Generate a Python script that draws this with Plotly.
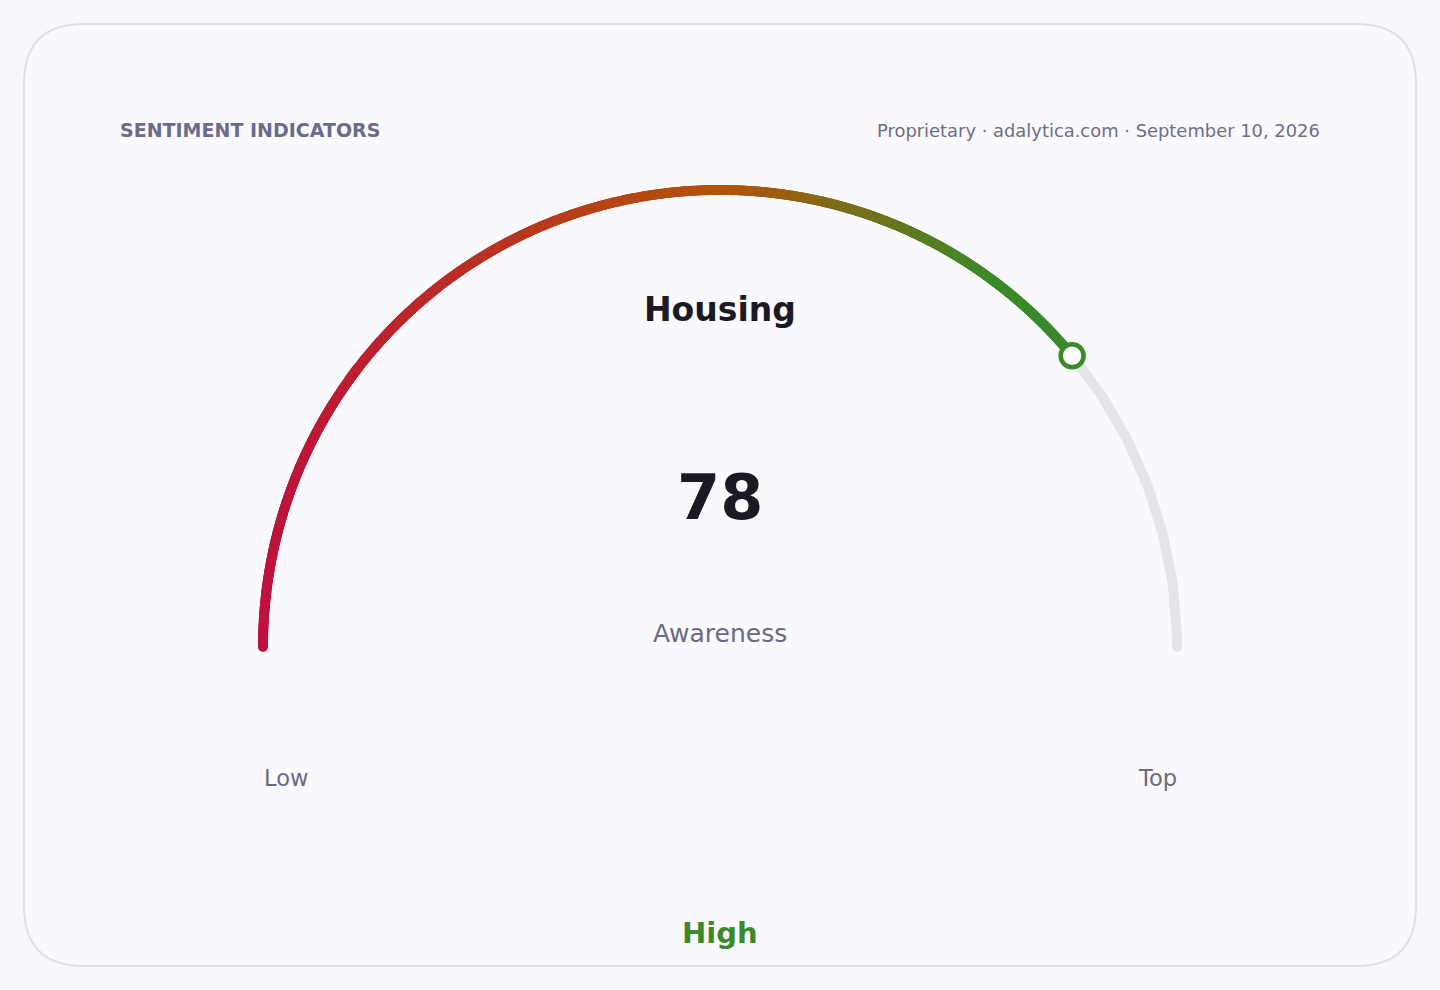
import numpy as np
import plotly.graph_objects as go

# gauge data
value = 78
gauge_min = 0
gauge_max = 100
title = "Housing"
metric = "Awareness"
band_label = "High"
min_label = "Low"
max_label = "Top"
header_left = "SENTIMENT INDICATORS"
header_right = "Proprietary · adalytica.com · September 10, 2026"

W, H = 1440, 990
cx, cy, r = 720, 647, 457
FONT = "DejaVu Sans"
GREEN = "#3b8a2a"


def pos(v):
    # value -> pixel position on the half circle (0 on the left, max on the right)
    a = np.pi * (1 - (v - gauge_min) / (gauge_max - gauge_min))
    return cx + r * np.cos(a), cy - r * np.sin(a)


fig = go.Figure()

# grey track for the remaining part
tv = np.linspace(value, gauge_max, 120)
tx, ty = pos(tv)
fig.add_trace(go.Scatter(x=tx, y=ty, mode="lines", line=dict(color="#e4e4ea", width=10),
                         hoverinfo="skip"))
ex, ey = pos(gauge_max)
fig.add_trace(go.Scatter(x=[ex], y=[ey], mode="markers",
                         marker=dict(color="#e4e4ea", size=10), hoverinfo="skip"))

# filled arc as a dense run of dots, colour ramp runs left to right across the gauge
fv = np.linspace(gauge_min, value, 900)
fx, fy = pos(fv)
fig.add_trace(go.Scatter(
    x=fx, y=fy, mode="markers",
    marker=dict(size=10, color=fx, cmin=cx - r, cmax=cx + r,
                colorscale=[[0, "#be123c"], [0.5, "#b45309"], [0.8, GREEN], [1, GREEN]],
                line=dict(width=0)),
    hoverinfo="skip"))

# knob
kx, ky = pos(value)
fig.add_trace(go.Scatter(x=[kx], y=[ky], mode="markers",
                         marker=dict(size=23, color="#ffffff", line=dict(color=GREEN, width=4.5)),
                         hoverinfo="skip"))

# card
rr = 60
x0, y0, x1, y1 = 24, 24, 1416, 966
card = (f"M {x0+rr},{y0} L {x1-rr},{y0} Q {x1},{y0} {x1},{y0+rr} L {x1},{y1-rr} "
        f"Q {x1},{y1} {x1-rr},{y1} L {x0+rr},{y1} Q {x0},{y1} {x0},{y1-rr} "
        f"L {x0},{y0+rr} Q {x0},{y0} {x0+rr},{y0} Z")
fig.add_shape(type="path", path=card, xref="x", yref="y", layer="below",
              fillcolor="#f9f9fe", line=dict(color="#dedeec", width=2))

annotations = [
    dict(x=118, y=130, text=f"<b>{header_left}</b>", xanchor="left",
         font=dict(size=19, color="#6b6b8a")),
    dict(x=1322, y=130, text=header_right, xanchor="right",
         font=dict(size=17.9, color="#6e6e85")),
    dict(x=cx, y=309, text=f"<b>{title}</b>", font=dict(size=33, color="#1a1a24")),
    dict(x=cx, y=497, text=f"<b>{value}</b>", font=dict(size=62, color="#1a1a24")),
    dict(x=cx, y=633, text=metric, font=dict(size=25, color="#6b6b80")),
    dict(x=cx - r - 1, y=778, text=min_label, xanchor="left", font=dict(size=22.5, color="#6b6b80")),
    dict(x=cx + r + 2, y=778, text=max_label, xanchor="right", font=dict(size=22.5, color="#6b6b80")),
    dict(x=cx, y=933, text=f"<b>{band_label}</b>", font=dict(size=29, color=GREEN)),
]
for a in annotations:
    a.setdefault("xanchor", "center")
    fig.add_annotation(xref="x", yref="y", yanchor="middle", showarrow=False, **a)

fig.update_xaxes(range=[0, W], visible=False, fixedrange=True)
fig.update_yaxes(range=[H, 0], visible=False, fixedrange=True)
fig.update_layout(
    width=W, height=H,
    margin=dict(l=0, r=0, t=0, b=0),
    paper_bgcolor="#f8f8fc", plot_bgcolor="#f8f8fc",
    showlegend=False,
    font=dict(family=FONT),
)

fig.write_html("out.html", config={"displayModeBar": False},
               post_script="document.body.style.margin='0';document.body.style.overflow='hidden';")
